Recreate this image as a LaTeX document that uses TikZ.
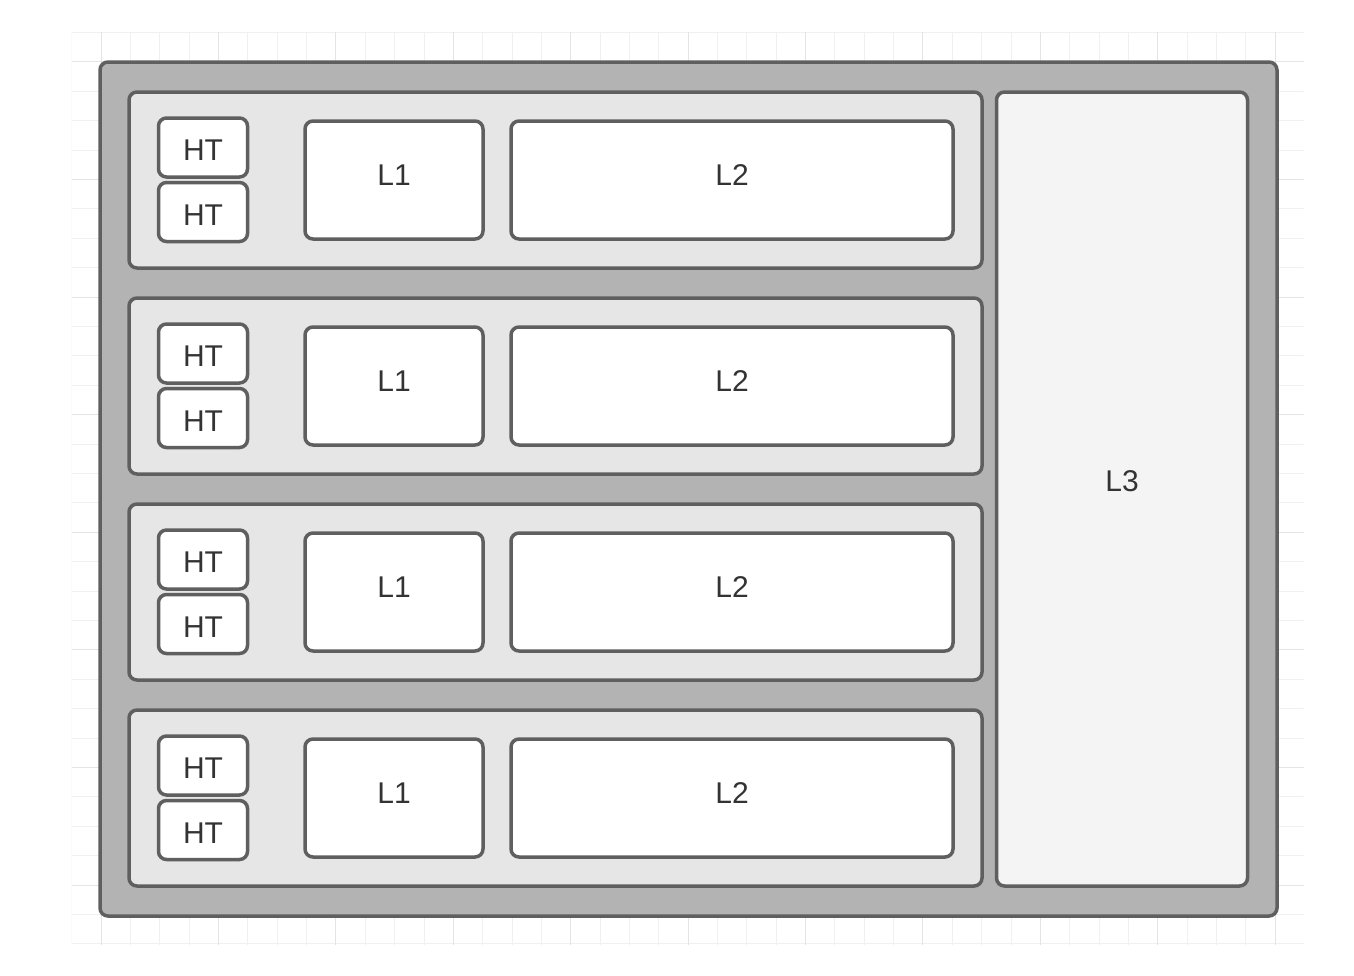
\documentclass[tikz,border=0pt]{standalone}
\usepackage{fontspec}
\setmainfont{Liberation Sans}
\definecolor{edge}{HTML}{5F5F5F}
\definecolor{outerfill}{HTML}{B3B3B3}
\definecolor{rowfill}{HTML}{E6E6E6}
\definecolor{lthree}{HTML}{F5F4F5}
\definecolor{txt}{HTML}{333333}
\definecolor{gridminor}{HTML}{F0F0F0}
\definecolor{gridmajor}{HTML}{E4E4E4}
\begin{document}
\begin{tikzpicture}[x=1pt,y=-1pt,
  box/.style={draw=edge,line width=3.5pt,rounded corners=8pt,inner sep=0pt},
  outerbox/.style={box,fill=outerfill},
  rowbox/.style={box,fill=rowfill},
  cellbox/.style={box,fill=white},
  lthreebox/.style={box,fill=lthree},
  lbl/.style={text=txt,inner sep=0pt,font=\fontsize{30}{35}\selectfont}]
\useasboundingbox (0,0) rectangle (1354,975);
% grid background
\begin{scope}
\clip (71.5,32) rectangle (1303.5,944.5);
\foreach \i in {0,...,42} {
  \draw[gridminor,line width=0.8pt] ({71.7+29.35*\i},32) -- ({71.7+29.35*\i},944.5);
}
\foreach \j in {0,...,31} {
  \draw[gridminor,line width=0.8pt] (71.5,{32.3+29.4*\j}) -- (1303.5,{32.3+29.4*\j});
}
\foreach \i in {1,5,...,41} {
  \draw[gridmajor,line width=0.8pt] ({71.7+29.35*\i},32) -- ({71.7+29.35*\i},944.5);
}
\foreach \j in {1,5,...,29} {
  \draw[gridmajor,line width=0.8pt] (71.5,{32.3+29.4*\j}) -- (1303.5,{32.3+29.4*\j});
}
\end{scope}
% outer container
\node[outerbox,minimum width=1177pt,minimum height=854pt] (outer) at (688.5,489) {};
% right column
\node[lthreebox,minimum width=251pt,minimum height=794pt] (l3) at (1122,489) {};
\node[lbl] (l3t) at (1122,481) {L3};
% rows
\foreach \r [evaluate=\r as \dy using 206*(\r-1)] in {1,2,3,4} {
  \node[rowbox,minimum width=853pt,minimum height=176pt] (row\r) at (555.5,{180+\dy}) {};
  \node[cellbox,minimum width=89pt,minimum height=59pt] (hta\r) at (203,{147.5+\dy}) {};
  \node[cellbox,minimum width=89pt,minimum height=59pt] (htb\r) at (203,{212+\dy}) {};
  \node[cellbox,minimum width=178pt,minimum height=118pt] (lone\r) at (394,{180+\dy}) {};
  \node[cellbox,minimum width=442pt,minimum height=118pt] (ltwo\r) at (732,{180+\dy}) {};
  \node[lbl] (htat\r) at (203,{150.5+\dy}) {HT};
  \node[lbl] (htbt\r) at (203,{215+\dy}) {HT};
  \node[lbl] (lonet\r) at (394,{175+\dy}) {L1};
  \node[lbl] (ltwot\r) at (732,{175+\dy}) {L2};
}
\end{tikzpicture}
\end{document}
